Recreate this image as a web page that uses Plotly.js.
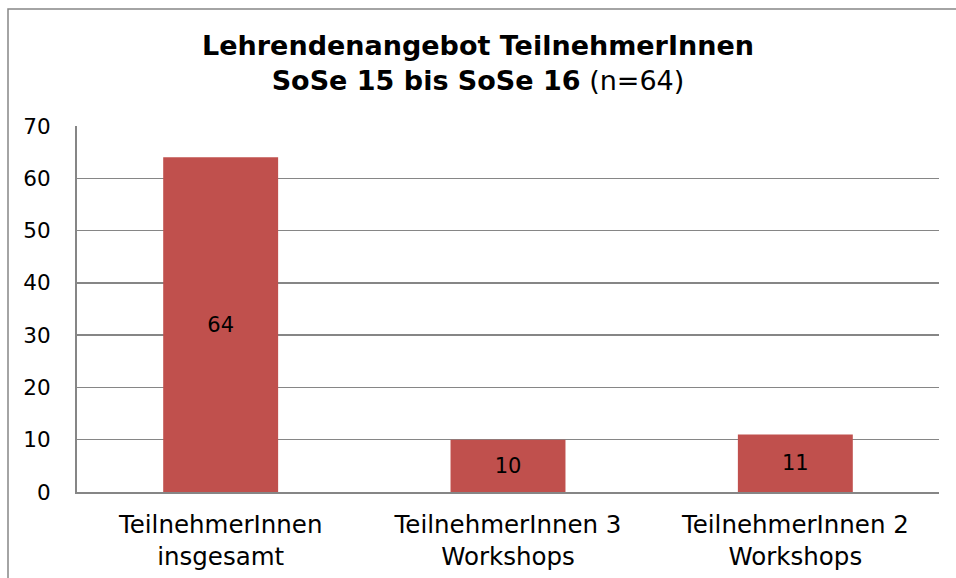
<!DOCTYPE html>
<html><head><meta charset="utf-8">
<script src="https://cdn.plot.ly/plotly-3.0.1.min.js"></script>
<style>html,body{margin:0;padding:0;background:#fff}#c{width:956px;height:578px}</style>
</head><body><div id="c"></div>
<script>
const categories = ["TeilnehmerInnen<br>insgesamt", "TeilnehmerInnen 3<br>Workshops", "TeilnehmerInnen 2<br>Workshops"];
const values = [64, 10, 11];
const yTicks = [0, 10, 20, 30, 40, 50, 60, 70];

const font = "Verdana, 'DejaVu Sans', sans-serif";
Plotly.newPlot("c", [{
  type: "bar",
  x: categories,
  y: values,
  text: values.map(String),
  textposition: "inside",
  insidetextanchor: "middle",
  textfont: {family: font, size: 21, color: "#000"},
  marker: {color: "#C0504D", line: {width: 0}},
  width: 0.4,
  hoverinfo: "none"
}], {
  width: 956, height: 578,
  margin: {l: 77, r: 17, t: 126, b: 86},
  paper_bgcolor: "#fff", plot_bgcolor: "#fff",
  showlegend: false,
  font: {family: font, color: "#000"},
  title: {
    text: "<b>Lehrendenangebot TeilnehmerInnen</b><br><b>SoSe 15 bis SoSe 16</b> (n=64)",
    font: {family: font, size: 27, color: "#000"},
    x: 0.5, xanchor: "center", yref: "container", y: 1 - 55/578, yanchor: "top"
  },
  xaxis: {
    showgrid: false, zeroline: false,
    showline: true, linecolor: "#868686", linewidth: 2,
    ticks: "", ticklabelstandoff: 10,
    tickfont: {family: font, size: 24.5, color: "#000"},
    fixedrange: true
  },
  yaxis: {
    range: [0, 70], tickvals: yTicks, ticktext: yTicks.map(String),
    showgrid: true, gridcolor: "#868686", gridwidth: 1.5,
    zeroline: false, showline: true, linecolor: "#868686", linewidth: 2,
    ticks: "", ticklabelstandoff: 20,
    tickfont: {family: font, size: 21.5, color: "#000"},
    fixedrange: true
  },
  shapes: [{
    type: "rect", xref: "paper", yref: "paper",
    x0: -69/862, x1: 1.1, y0: -0.5, y1: (578-9-86)/366 ,
    line: {color: "#868686", width: 1.5}, fillcolor: "rgba(0,0,0,0)", layer: "below"
  }]
}, {staticPlot: true});
</script></body></html>
